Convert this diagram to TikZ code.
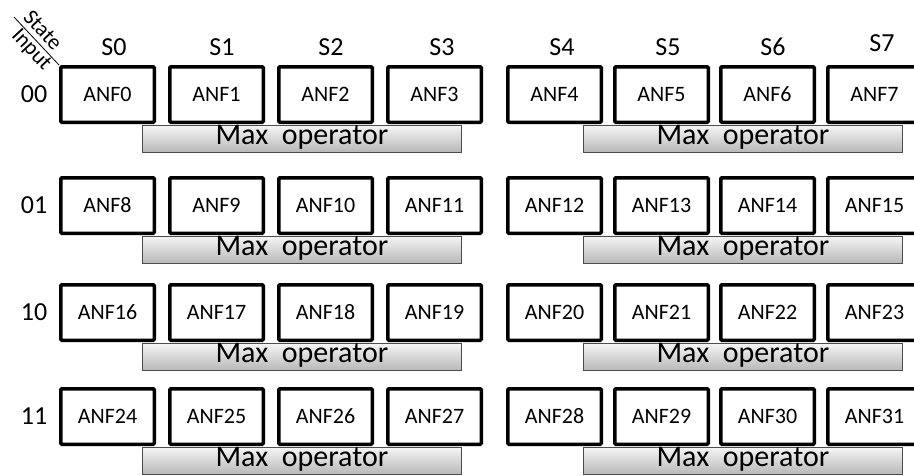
\documentclass[tikz,border=0pt]{standalone}
\usepackage{fontspec}
\setmainfont{Carlito}
\usetikzlibrary{positioning}

\begin{document}
\begin{tikzpicture}[x=1pt,y=-1pt,every node/.style={font=\fontsize{22}{25}\selectfont},
 anf/.style={draw,line width=3.5pt,rounded corners=1pt,anchor=north west,minimum width=93.5pt,minimum height=55.5pt,
  inner sep=0pt,text height=14pt,text depth=0pt},
 maxop/.style={draw=black!70,line width=.8pt,top color=white!96!black,bottom color=black!28,anchor=north west,
  minimum width=319pt,minimum height=27pt,inner sep=0pt,text height=18pt,text depth=6pt,font=\fontsize{30}{32}\selectfont},
 lbl/.style={font=\fontsize{26}{28}\selectfont}]
\clip (0,0) rectangle (914,475);
\newcommand{\ANFrow}[4]{% #1 row name, #2 top y, #3 input bits, #4 first ANF index
\node[lbl] (#1-in) at (34,#2+29) {#3};
\node[anf] (#1-b0) at (59,#2) {ANF\the\numexpr#4\relax};\node[anf] (#1-b1) at (168,#2) {ANF\the\numexpr#4+1\relax};
\node[anf] (#1-b2) at (277,#2) {ANF\the\numexpr#4+2\relax};\node[anf] (#1-b3) at (386,#2) {ANF\the\numexpr#4+3\relax};
\node[anf] (#1-b4) at (506,#2) {ANF\the\numexpr#4+4\relax};\node[anf] (#1-b5) at (613,#2) {ANF\the\numexpr#4+5\relax};
\node[anf] (#1-b6) at (719,#2) {ANF\the\numexpr#4+6\relax};\node[anf] (#1-b7) at (826,#2) {ANF\the\numexpr#4+7\relax};
\node[maxop] (#1-m0) at (142,#2+60) {Max~~operator};\node[maxop] (#1-m1) at (583,#2+60) {Max~~operator};}
% state headers
\node[lbl] (S0) at (114,47) {S0};\node[lbl] (S1) at (222,47) {S1};\node[lbl] (S2) at (331,47) {S2};\node[lbl] (S3) at (442,47) {S3};
\node[lbl] (S4) at (562,47) {S4};\node[lbl] (S5) at (668,47) {S5};\node[lbl] (S6) at (773,47) {S6};\node[lbl] (S7) at (882,43) {S7};
% rows
\ANFrow{R0}{65}{00}{0}
\ANFrow{R1}{176}{01}{8}
\ANFrow{R2}{283}{10}{16}
\ANFrow{R3}{387}{11}{24}
% corner
\node[rotate=-47,font=\fontsize{22}{22}\selectfont,inner sep=0pt] (st) at (43,30) {State};
\node[rotate=-47,font=\fontsize{22}{22}\selectfont,inner sep=0pt] (inp) at (31,50) {Input};
\coordinate (diag) at (14,17);
\draw[line width=.8pt] (diag) -- (R0-b0.north west);
\end{tikzpicture}
\end{document}
